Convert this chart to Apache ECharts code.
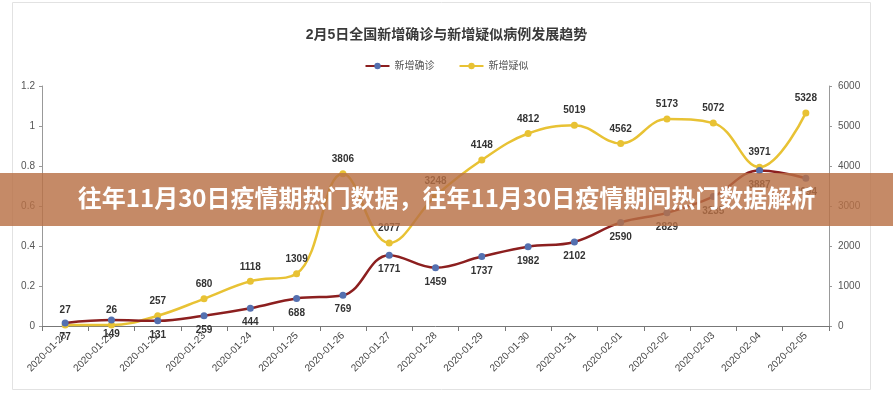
<!DOCTYPE html>
<html>
<head>
<meta charset="utf-8">
<script src="https://cdn.jsdelivr.net/npm/echarts@6/dist/echarts.min.js"></script>
<style>
html,body{margin:0;padding:0;background:#fff;}
#chart{width:893px;height:400px;}
</style>
</head>
<body>
<div id="chart"></div>
<script>
const categories = ['2020-01-20','2020-01-21','2020-01-22','2020-01-23','2020-01-24','2020-01-25','2020-01-26','2020-01-27','2020-01-28','2020-01-29','2020-01-30','2020-01-31','2020-02-01','2020-02-02','2020-02-03','2020-02-04','2020-02-05'];
const confirmed = [77,149,131,259,444,688,769,1771,1459,1737,1982,2102,2590,2829,3235,3887,3694];
const suspected = [27,26,257,680,1118,1309,3806,2077,3248,4148,4812,5019,4562,5173,5072,3971,5328];
const leftTicks = {min:0, max:1.2, interval:0.2};
const rightTicks = {min:0, max:6000, interval:1000};
const titleText = '2月5日全国新增确诊与新增疑似病例发展趋势';
const bannerText = '往年11月30日疫情期热门数据，往年11月30日疫情期间热门数据解析';

const FONT = '"Liberation Sans", "Noto Sans CJK SC", sans-serif';
const chart = echarts.init(document.getElementById('chart'));
chart.setOption({
  backgroundColor:'#fff',
  animation:false,
  title:{text:titleText,left:'center',top:23,textStyle:{fontSize:14,fontWeight:'bold',color:'#3a3a3a',fontFamily:FONT}},
  legend:{top:56,left:'center',itemWidth:24,itemHeight:8,itemGap:24,
    textStyle:{fontSize:10,color:'#555',fontFamily:FONT},
    data:['新增确诊','新增疑似']},
  grid:{left:42,right:64,top:86,bottom:74},
  xAxis:{type:'category',data:categories,boundaryGap:true,
    axisLine:{lineStyle:{color:'#777',width:1}},
    axisTick:{show:true,lineStyle:{color:'#777'}},
    axisLabel:{rotate:45,fontSize:10,color:'#444',fontFamily:FONT,margin:8,interval:0}},
  yAxis:[
    {type:'value',min:leftTicks.min,max:leftTicks.max,interval:leftTicks.interval,position:'left',
     splitLine:{show:false},axisLine:{show:true,lineStyle:{color:'#999'}},axisTick:{show:true,length:3,lineStyle:{color:'#999'}},
     axisLabel:{fontSize:10,color:'#555',fontFamily:FONT,formatter:v=>String(+v.toFixed(1)),margin:7}},
    {type:'value',min:rightTicks.min,max:rightTicks.max,interval:rightTicks.interval,position:'right',
     splitLine:{show:false},axisLine:{show:true,lineStyle:{color:'#999'}},axisTick:{show:true,length:3,lineStyle:{color:'#999'}},
     axisLabel:{fontSize:10,color:'#555',fontFamily:FONT,margin:9,formatter:v=>String(v)}}
  ],
  series:[
    {name:'新增确诊',type:'line',yAxisIndex:1,data:confirmed,smooth:0.4,
     symbol:'circle',symbolSize:7,
     lineStyle:{color:'#8c1f1f',width:2.5},
     itemStyle:{color:'#5470b0'},
     label:{show:true,position:'bottom',distance:6,fontSize:10,fontWeight:'bold',color:'#333',fontFamily:FONT},
     z:3},
    {name:'新增疑似',type:'line',yAxisIndex:1,data:suspected,smooth:0.4,
     symbol:'circle',symbolSize:7,
     lineStyle:{color:'#e8c234',width:2.5},
     itemStyle:{color:'#e8c234'},
     label:{show:true,position:'top',distance:6,fontSize:10,fontWeight:'bold',color:'#333',fontFamily:FONT},
     z:2}
  ],
  graphic:[
    {type:'rect',left:10,top:0,shape:{width:858,height:387},style:{fill:'none',stroke:'#e2e2e2',lineWidth:1},z:-1},
    {type:'rect',left:0,top:173,shape:{width:893,height:53},style:{fill:'rgba(184,112,70,0.82)'},z:100},
    {type:'text',left:'center',top:186,style:{text:bannerText,fill:'#fff',font:'bold 24px "Noto Sans CJK SC", sans-serif'},z:101}
  ]
});
</script>
</body>
</html>
